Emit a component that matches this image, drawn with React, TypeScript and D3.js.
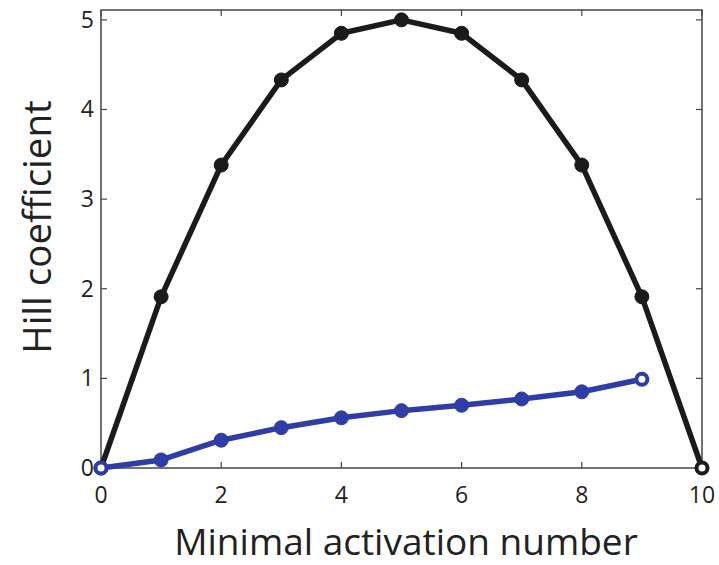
import React from "react";
import * as d3 from "d3";

const xs = [0, 1, 2, 3, 4, 5, 6, 7, 8, 9, 10];
const blackSeries = [0, 1.91, 3.38, 4.33, 4.85, 5.0, 4.85, 4.33, 3.38, 1.91, 0];
const blueX = [0, 1, 2, 3, 4, 5, 6, 7, 8, 9];
const blueSeries = [0, 0.09, 0.31, 0.45, 0.56, 0.64, 0.70, 0.77, 0.85, 0.99];
const xTicks = [0, 2, 4, 6, 8, 10];
const yTicks = [0, 1, 2, 3, 4, 5];

const W = 719, H = 565;
const L = 101, R = 702, T = 10, B = 468;

export default function App() {
  const x = d3.scaleLinear().domain([0, 10]).range([L, R]);
  const y = d3.scaleLinear().domain([0, 5.11]).range([B, T]);
  const line = d3.line<number>();
  const blackPts: [number, number][] = xs.map((v, i) => [x(v), y(blackSeries[i])]);
  const bluePts: [number, number][] = blueX.map((v, i) => [x(v), y(blueSeries[i])]);
  const black = "#1b1b1b";
  const blue = "#2f3ea6";
  const axisC = "#444";
  const font = "'Open Sans', 'Noto Sans', sans-serif";
  return (
    <svg width={W} height={H} style={{ position: "absolute", left: 0, top: 0, background: "#fff" }}>
      <rect x={L} y={T} width={R - L} height={B - T} fill="none" stroke={axisC} strokeWidth={1.5} />
      {xTicks.map((t) => (
        <g key={"x" + t}>
          <line x1={x(t)} x2={x(t)} y1={B} y2={B - 6} stroke={axisC} strokeWidth={1.2} />
          <line x1={x(t)} x2={x(t)} y1={T} y2={T + 6} stroke={axisC} strokeWidth={1.2} />
          <text x={x(t)} y={503} textAnchor="middle" fontSize={23} fill="#222" fontFamily={font}>{t}</text>
        </g>
      ))}
      {yTicks.map((t) => (
        <g key={"y" + t}>
          <line x1={L} x2={L + 6} y1={y(t)} y2={y(t)} stroke={axisC} strokeWidth={1.2} />
          <line x1={R} x2={R - 6} y1={y(t)} y2={y(t)} stroke={axisC} strokeWidth={1.2} />
          <text x={94} y={y(t) + 8} textAnchor="end" fontSize={23} fill="#222" fontFamily={font}>{t}</text>
        </g>
      ))}
      <path d={line(blackPts) || ""} fill="none" stroke={black} strokeWidth={5.5} strokeLinejoin="round" />
      {blackPts.map((p, i) => (
        <circle key={"b" + i} cx={p[0]} cy={p[1]} r={i === blackPts.length - 1 ? 5.5 : 7}
          fill={i === blackPts.length - 1 ? "#fff" : black} stroke={black} strokeWidth={i === blackPts.length - 1 ? 4 : 1} />
      ))}
      <path d={line(bluePts) || ""} fill="none" stroke={blue} strokeWidth={5.5} strokeLinejoin="round" />
      {bluePts.map((p, i) => {
        const open = i === 0 || i === bluePts.length - 1;
        return (
          <circle key={"u" + i} cx={p[0]} cy={p[1]} r={open ? 5.5 : 7}
            fill={open ? "#fff" : blue} stroke={blue} strokeWidth={open ? 4 : 1} />
        );
      })}
      <text x={406} y={555} textAnchor="middle" fontSize={37} fill="#222" fontFamily={font}>Minimal activation number</text>
      <text transform={`translate(51,227) rotate(-90)`} textAnchor="middle" fontSize={38.5} fill="#222" fontFamily={font}>Hill coefficient</text>
    </svg>
  );
}
